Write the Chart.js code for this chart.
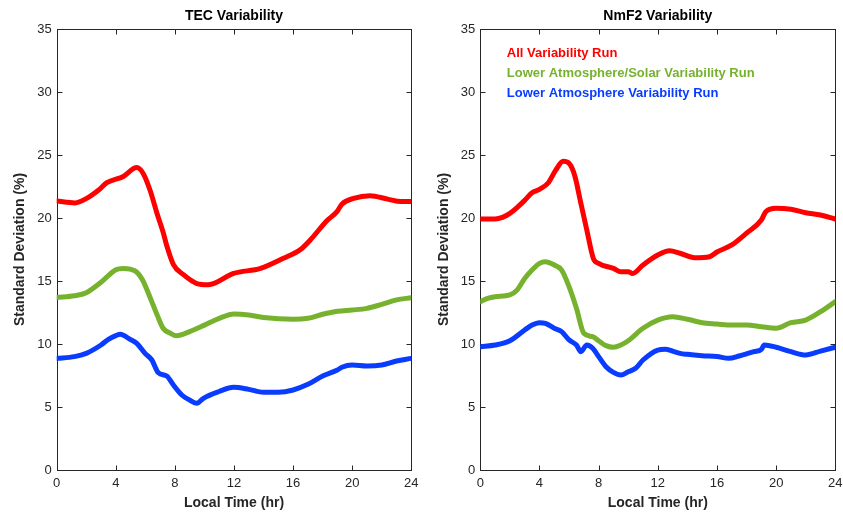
<!DOCTYPE html>
<html>
<head>
<meta charset="utf-8">
<script src="https://cdn.jsdelivr.net/npm/chart.js@4"></script>
<style>
  html, body { margin: 0; padding: 0; background: #fff; }
  #wrap { position: relative; width: 843px; height: 512px; overflow: hidden; }
  canvas { position: absolute; top: 0; }
</style>
</head>
<body>
<div id="wrap">
  <canvas id="left" width="421" height="512" style="left:0px"></canvas>
  <canvas id="right" width="422" height="512" style="left:421px"></canvas>
</div>
<script>
// ---------- Data ----------
const xTicks = [0, 4, 8, 12, 16, 20, 24];
const yTicks = [0, 5, 10, 15, 20, 25, 30, 35];
const seriesLabels = ["All Variability Run", "Lower Atmosphere/Solar Variability Run", "Lower Atmosphere Variability Run"];
const seriesColors = ["#ff0000", "#77b22f", "#0a3cff"];

// TEC panel
const tecAllHours = [0,1.24,2.03,2.82,3.39,4.51,5.42,5.87,6.32,6.78,7.22,7.45,7.9,8.58,9.48,10.27,11.97,13.8,15.35,16.5,17.16,18.3,18.97,19.3,20.1,21.2,22.4,23.3,24];
const tecAll      = [21.35,21.2,21.56,22.2,22.8,23.3,24.0,23.5,22.2,20.4,18.8,17.8,16.3,15.5,14.8,14.7,15.6,16.0,16.8,17.5,18.25,19.8,20.5,21.1,21.56,21.77,21.5,21.3,21.3];
const tecSolarHours = [0,1.2,2,3,4,4.5,5.3,5.8,6.3,6.8,7.2,7.7,8.1,9,10,11,12,13,14,16,17,18,19,20,21,22,23,24];
const tecSolar      = [13.7,13.83,14.07,14.9,15.9,16.0,15.8,15.1,13.75,12.3,11.25,10.85,10.66,10.98,11.5,12.04,12.38,12.3,12.1,11.96,12.04,12.36,12.6,12.7,12.83,13.15,13.5,13.67];
const tecLowerHours = [0,1.2,2,3,3.5,4,4.3,4.97,5.42,5.98,6.44,6.88,7.45,7.9,8.47,8.92,9.48,9.93,10.95,11.97,13,14,15,16,17,18,19,19.3,20,21,22,23,24];
const tecLower      = [8.86,9.0,9.26,9.92,10.37,10.66,10.77,10.37,10.05,9.26,8.73,7.72,7.46,6.75,5.95,5.6,5.29,5.69,6.21,6.56,6.4,6.17,6.17,6.35,6.8,7.46,7.94,8.15,8.33,8.25,8.33,8.65,8.86];

// NmF2 panel
const nmAllHours = [0,1,1.5,2,2.5,3,3.5,4,4.6,5.1,5.6,6,6.4,6.8,7.2,7.64,8,9,9.5,10,10.3,11,12,12.8,13.5,14.5,15.5,16,17,18,19,19.3,20,21,22,23,24];
const nmAll      = [19.92,19.92,20.05,20.37,20.85,21.4,22.0,22.27,22.8,23.8,24.5,24.34,23.3,21.16,19.05,16.8,16.4,16.0,15.74,15.74,15.6,16.27,17.06,17.4,17.2,16.85,16.93,17.3,17.86,18.8,19.84,20.5,20.77,20.69,20.42,20.24,19.92];
const nmSolarHours = [0,0.5,1,2,2.5,3,3.5,4,4.4,5,5.5,6,6.5,7,7.6,8,8.5,9,9.5,10,11,12,13,14,15,16,17,18,19,20,21,22,23,24];
const nmSolar      = [13.36,13.62,13.75,13.9,14.3,15.2,15.87,16.4,16.53,16.27,15.87,14.55,12.83,10.85,10.58,10.26,9.87,9.74,9.92,10.26,11.25,11.9,12.17,11.96,11.69,11.59,11.5,11.5,11.37,11.25,11.69,11.9,12.56,13.36];
const nmLowerHours = [0,1,2,3,3.5,4,4.4,5,5.5,6,6.5,6.8,7.2,7.6,8,8.5,9,9.5,10,10.5,11,12,12.5,13,13.5,14,15,16,16.8,17.5,18.5,19,19.2,20,21,22,23,24];
const nmLower      = [9.79,9.92,10.26,11.11,11.5,11.69,11.64,11.25,10.98,10.32,9.92,9.39,9.92,9.66,9.0,8.2,7.75,7.54,7.8,8.07,8.73,9.52,9.58,9.44,9.26,9.18,9.07,9.0,8.86,9.05,9.39,9.58,9.92,9.74,9.39,9.13,9.44,9.74];

// ---------- Helpers ----------
const FONT = "'Liberation Sans', Arial, Helvetica, sans-serif";
const AXIS_COLOR = "#262626";
Chart.defaults.font.family = FONT;

function pts(xs, ys) { return xs.map((x, i) => ({ x: x, y: ys[i] })); }

function makeDatasets(groups) {
  return groups.map((g, i) => ({
    label: seriesLabels[i],
    data: pts(g[0], g[1]),
    borderColor: seriesColors[i],
    backgroundColor: seriesColors[i],
    borderWidth: 5,
    pointRadius: 0,
    cubicInterpolationMode: 'monotone',
    fill: false,
    borderCapStyle: 'round',
    borderJoinStyle: 'round'
  }));
}

const boxPlugin = {
  id: 'matlabBox',
  beforeDatasetsDraw(chart) {
    const { ctx, chartArea: a, scales } = chart;
    ctx.save();
    ctx.strokeStyle = AXIS_COLOR;
    ctx.lineWidth = 1;
    const L = Math.round(a.left) + 0.5, R = Math.round(a.right) + 0.5;
    const T = Math.round(a.top) + 0.5, B = Math.round(a.bottom) + 0.5;
    ctx.strokeRect(L, T, R - L, B - T);
    const tl = 5;
    ctx.beginPath();
    scales.x.ticks.forEach(t => {
      const px = Math.round(scales.x.getPixelForValue(t.value)) + 0.5;
      ctx.moveTo(px, B); ctx.lineTo(px, B - tl);
      ctx.moveTo(px, T); ctx.lineTo(px, T + tl);
    });
    scales.y.ticks.forEach(t => {
      const py = Math.round(scales.y.getPixelForValue(t.value)) + 0.5;
      ctx.moveTo(L, py); ctx.lineTo(L + tl, py);
      ctx.moveTo(R, py); ctx.lineTo(R - tl, py);
    });
    ctx.stroke();
    ctx.restore();
  }
};

const textLegendPlugin = {
  id: 'textLegend',
  afterDraw(chart, args, opts) {
    if (!opts || !opts.show) return;
    const { ctx, chartArea: a } = chart;
    ctx.save();
    ctx.font = "bold 13px " + FONT;
    ctx.textAlign = 'left';
    ctx.textBaseline = 'middle';
    const offs = [24.5, 44.5, 64];
    chart.data.datasets.forEach((ds, i) => {
      ctx.fillStyle = ds.borderColor;
      ctx.fillText(ds.label, a.left + 26.5, a.top + offs[i]);
    });
    ctx.restore();
  }
};

function makeChart(id, title, groups, opt) {
  return new Chart(document.getElementById(id), {
    type: 'line',
    data: { datasets: makeDatasets(groups) },
    plugins: [boxPlugin, textLegendPlugin],
    options: {
      responsive: false,
      animation: false,
      devicePixelRatio: 1,
      layout: { padding: { left: 0, right: opt.padRight, top: 0, bottom: 0 } },
      plugins: {
        legend: { display: false },
        tooltip: { enabled: false },
        title: {
          display: true,
          text: title,
          fullSize: false,
          color: '#000',
          font: { size: 14, weight: 'bold', family: FONT },
          padding: { top: 8, bottom: 4.2 }
        },
        textLegend: { show: opt.legend }
      },
      scales: {
        x: {
          type: 'linear',
          min: 0, max: 24,
          afterBuildTicks(scale) { scale.ticks = xTicks.map(v => ({ value: v })); },
          afterFit(scale) { scale.height = 42; scale.paddingLeft = 0; scale.paddingRight = 0; },
          grid: { display: false, drawTicks: false },
          border: { display: false },
          ticks: { color: AXIS_COLOR, font: { size: 13, family: FONT }, padding: 6, maxRotation: 0, autoSkip: false },
          title: {
            display: true, text: 'Local Time (hr)', color: AXIS_COLOR,
            font: { size: 14, weight: 'bold', family: FONT },
            padding: { top: 0, bottom: 0.5 }
          }
        },
        y: {
          type: 'linear',
          min: 0, max: 35,
          afterBuildTicks(scale) { scale.ticks = yTicks.map(v => ({ value: v })); },
          afterFit(scale) { scale.width = opt.yWidth; },
          grid: { display: false, drawTicks: false },
          border: { display: false },
          ticks: { color: AXIS_COLOR, font: { size: 13, family: FONT }, padding: 5, autoSkip: false },
          title: {
            display: true, text: 'Standard Deviation (%)', color: AXIS_COLOR,
            font: { size: 14, weight: 'bold', family: FONT },
            padding: { top: opt.yTitlePad, bottom: 0 }
          }
        }
      }
    }
  });
}

makeChart('left', 'TEC Variability',
  [[tecAllHours, tecAll], [tecSolarHours, tecSolar], [tecLowerHours, tecLower]],
  { padRight: 9.7, yWidth: 56.7, yTitlePad: 11.5, legend: false });

makeChart('right', 'NmF2 Variability',
  [[nmAllHours, nmAll], [nmSolarHours, nmSolar], [nmLowerHours, nmLower]],
  { padRight: 7.7, yWidth: 59.3, yTitlePad: 14.5, legend: true });
</script>
</body>
</html>
